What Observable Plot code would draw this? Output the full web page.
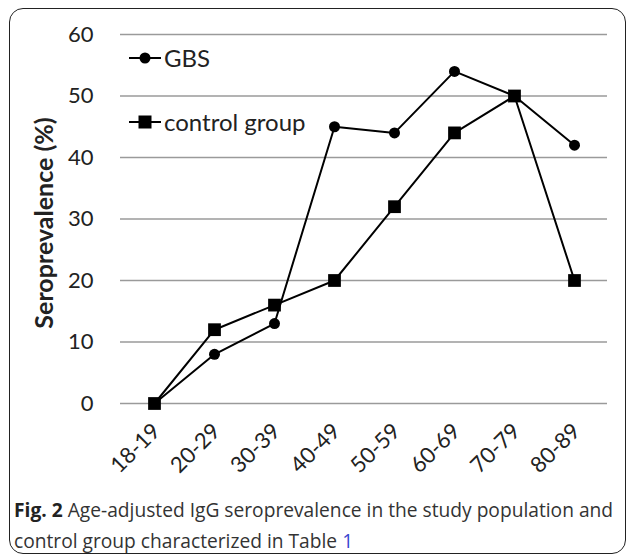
<!DOCTYPE html>
<html>
<head>
<meta charset="utf-8">
<script src="https://cdn.jsdelivr.net/npm/d3@7"></script>
<script src="https://cdn.jsdelivr.net/npm/@observablehq/plot@0.6"></script>
<style>
  body { margin: 0; background: #fff; }
  #wrap { position: relative; width: 627px; height: 557px; overflow: hidden; font-family: Lato, sans-serif; }
  #frame { position: absolute; left: 9px; top: 8px; width: 615px; height: 544px; border: 1.6px solid #222; border-radius: 14px; }
  #chart { position: absolute; left: 0; top: 0; }
  .leg { position: absolute; left: 128px; font-family: Lato, sans-serif; font-size: 24px; color: #222; display: flex; align-items: center; }
  .leg svg { margin-right: 2px; }
  #caption { position: absolute; left: 14px; top: 494px; width: 612px; font-family: "Open Sans", sans-serif; font-size: 19.2px; line-height: 31px; color: #333; white-space: nowrap; }
  #caption b { color: #222; }
  #caption .ref { color: #3a46d0; }
</style>
</head>
<body>
<div id="wrap">
  <div id="frame"></div>
  <div id="chart"></div>
  <div class="leg" id="leg1" style="top:43px"></div>
  <div class="leg" id="leg2" style="top:107px"></div>
  <div id="caption"><b>Fig. 2</b> Age-adjusted IgG seroprevalence in the study population and<br>control group characterized in Table <span class="ref">1</span></div>
</div>
<script>
const ageGroups = ["18-19", "20-29", "30-39", "40-49", "50-59", "60-69", "70-79", "80-89"];
const gbsValues = [0, 8, 13, 45, 44, 54, 50, 42];
const controlValues = [0, 12, 16, 20, 32, 44, 50, 20];
const yTicks = [0, 10, 20, 30, 40, 50, 60];
const seriesNames = ["GBS", "control group"];

const gbs = ageGroups.map((a, i) => ({age: a, value: gbsValues[i]}));
const ctrl = ageGroups.map((a, i) => ({age: a, value: controlValues[i]}));

const chart = Plot.plot({
  width: 627,
  height: 490,
  marginLeft: 120,
  marginRight: 20,
  marginTop: 34,
  marginBottom: 87,
  style: {fontFamily: "Lato, sans-serif", color: "#222", background: "transparent"},
  x: {type: "point", domain: ageGroups, padding: 0.5, label: null},
  y: {domain: [0, 60], ticks: yTicks, label: null},
  marks: [
    Plot.gridY(yTicks, {stroke: "#9a9a9a", strokeOpacity: 1, strokeWidth: 1.5}),
    Plot.ruleX([0], {frameAnchor: "left", stroke: "#9a9a9a", strokeWidth: 1.5}),
    Plot.axisY({ticks: yTicks, tickSize: 0, tickPadding: 27, fontSize: 22, label: null}),
    Plot.axisX({tickSize: 0, tickRotate: -45, tickPadding: 24, fontSize: 22, dx: 2, label: null}),
    Plot.text(["Seroprevalence (%)"], {frameAnchor: "left", textAnchor: "middle", dx: -76, dy: 4, rotate: -90, fontSize: 25, fontWeight: "bold"}),
    Plot.line(gbs, {x: "age", y: "value", stroke: "#000", strokeWidth: 2}),
    Plot.line(ctrl, {x: "age", y: "value", stroke: "#000", strokeWidth: 2}),
    Plot.dot(gbs, {x: "age", y: "value", r: 5.5, fill: "#000", symbol: "circle"}),
    Plot.dot(ctrl, {x: "age", y: "value", r: 7.2, fill: "#000", symbol: "square"})
  ]
});
document.getElementById("chart").appendChild(chart);

function legendSymbol(kind) {
  const sym = kind === "circle"
    ? '<circle cx="17" cy="13" r="5.5" fill="#000"/>'
    : '<rect x="10.5" y="6.5" width="13" height="13" fill="#000"/>';
  return '<svg width="34" height="26"><line x1="1" x2="33" y1="13" y2="13" stroke="#000" stroke-width="2"/>' + sym + '</svg>';
}
document.getElementById("leg1").innerHTML = legendSymbol("circle") + "<span>" + seriesNames[0] + "</span>";
document.getElementById("leg2").innerHTML = legendSymbol("square") + "<span>" + seriesNames[1] + "</span>";
</script>
</body>
</html>
